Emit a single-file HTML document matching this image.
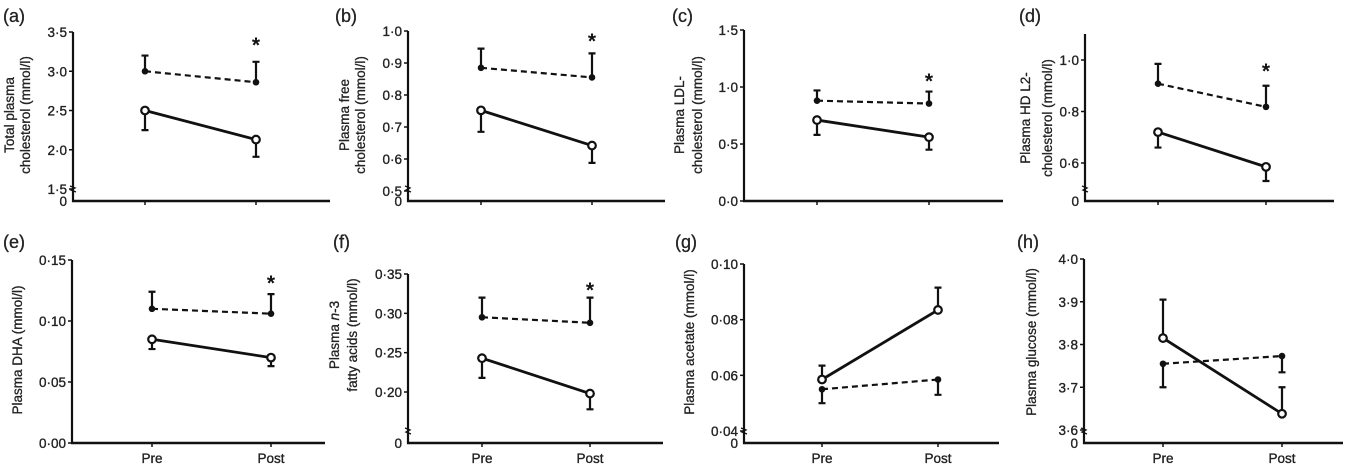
<!DOCTYPE html>
<html><head><meta charset="utf-8">
<style>
body{margin:0;background:#fff;}
svg{display:block;font-family:"Liberation Sans","DejaVu Sans",sans-serif;}
.tk{font-size:13.5px;fill:#222;stroke:#222;stroke-width:0.35px;}
.ttl{font-size:13.5px;fill:#222;stroke:#222;stroke-width:0.3px;}
.pl{font-size:18px;fill:#222;stroke:#222;stroke-width:0.3px;}
</style></head>
<body>
<svg id="chart" width="1345" height="466" viewBox="0 0 1345 466" xmlns="http://www.w3.org/2000/svg"></svg>
<script>
// ---- data ----
const timepoints=["Pre","Post"];
// (a) total cholesterol
const aTicks=[1.5,2.0,2.5,3.0,3.5];
const aDashed=[3.0,2.86], aDashedErr=[3.2,3.12];
const aSolid=[2.5,2.13], aSolidErr=[2.25,1.91];
// (b) free cholesterol
const bTicks=[0.5,0.6,0.7,0.8,0.9,1.0];
const bDashed=[0.885,0.855], bDashedErr=[0.945,0.93];
const bSolid=[0.752,0.642], bSolidErr=[0.685,0.588];
// (c) LDL
const cTicks=[0.0,0.5,1.0,1.5];
const cDashed=[0.88,0.855], cDashedErr=[0.97,0.96];
const cSolid=[0.71,0.56], cSolidErr=[0.58,0.45];
// (d) HDL2
const dTicks=[0.6,0.8,1.0];
const dDashed=[0.908,0.818], dDashedErr=[0.985,0.90];
const dSolid=[0.72,0.585], dSolidErr=[0.66,0.53];
// (e) DHA
const eTicks=[0.00,0.05,0.10,0.15];
const eDashed=[0.110,0.106], eDashedErr=[0.124,0.122];
const eSolid=[0.085,0.070], eSolidErr=[0.077,0.063];
// (f) n-3 fatty acids
const fTicks=[0.20,0.25,0.30,0.35];
const fDashed=[0.295,0.288], fDashedErr=[0.32,0.32];
const fSolid=[0.243,0.198], fSolidErr=[0.218,0.178];
// (g) acetate
const gTicks=[0.04,0.06,0.08,0.10];
const gDashed=[0.055,0.0585], gDashedErr=[0.050,0.053];
const gSolid=[0.0585,0.0835], gSolidErr=[0.0635,0.0915];
// (h) glucose
const hTicks=[3.6,3.7,3.8,3.9,4.0];
const hDashed=[3.755,3.773], hDashedErr=[3.70,3.735];
const hSolid=[3.815,3.638], hSolidErr=[3.905,3.70];

// ---- layout ----
const panels=[
 {id:"a",ax:73,bot:201,right:330,top:32,xs:[145,256],v:[1.5,3.5],y:[189,32],ticks:aTicks,dec:1,brk:true,star:true,starY:44,
  D:aDashed,DE:aDashedErr,S:aSolid,SE:aSolidErr,lab:[3,22],title:["Total plasma","cholesterol (mmol/l)"],tx:[14,30],ty:115,xl:false},
 {id:"b",ax:408,bot:201,right:665,top:31,xs:[481,592],v:[0.5,1.0],y:[191,31],ticks:bTicks,dec:1,brk:true,star:true,starY:40,
  D:bDashed,DE:bDashedErr,S:bSolid,SE:bSolidErr,lab:[335,22],title:["Plasma free","cholesterol (mmol/l)"],tx:[349,365],ty:115,xl:false},
 {id:"c",ax:744,bot:201,right:1003,top:30,xs:[817,929],v:[0.0,1.5],y:[201,30],ticks:cTicks,dec:1,brk:false,star:true,starY:80,
  D:cDashed,DE:cDashedErr,S:cSolid,SE:cSolidErr,lab:[672,22],title:["Plasma LDL-","cholesterol (mmol/l)"],tx:[684,702],ty:115,xl:false},
 {id:"d",ax:1085,bot:201,right:1334,top:34,xs:[1158,1266],v:[0.6,1.0],y:[163,60],ticks:dTicks,dec:1,brk:true,star:true,starY:70,
  D:dDashed,DE:dDashedErr,S:dSolid,SE:dSolidErr,lab:[1019,22],title:["Plasma HD L2-","cholesterol (mmol/l)"],tx:[1030,1052],ty:118,xl:false},
 {id:"e",ax:72,bot:443,right:325,top:260,xs:[152,271],v:[0.0,0.15],y:[443,260],ticks:eTicks,dec:2,brk:false,star:true,starY:282,
  D:eDashed,DE:eDashedErr,S:eSolid,SE:eSolidErr,lab:[3,248],title:["Plasma DHA (mmol/l)"],tx:[22],ty:350,xl:true},
 {id:"f",ax:408,bot:443,right:663,top:274,xs:[482,590],v:[0.20,0.35],y:[392,274],ticks:fTicks,dec:2,brk:true,star:true,starY:289,
  D:fDashed,DE:fDashedErr,S:fSolid,SE:fSolidErr,lab:[333,248],title:["Plasma n-3","fatty acids (mmol/l)"],tx:[339,357],ty:335,xl:true},
 {id:"g",ax:744,bot:443,right:999,top:264,xs:[822,938],v:[0.04,0.10],y:[431,264],ticks:gTicks,dec:2,brk:true,star:false,
  D:gDashed,DE:gDashedErr,S:gSolid,SE:gSolidErr,lab:[675,248],title:["Plasma acetate (mmol/l)"],tx:[694],ty:342,xl:true},
 {id:"h",ax:1084,bot:443,right:1343,top:259,xs:[1163,1282],v:[3.6,4.0],y:[430,259],ticks:hTicks,dec:1,brk:true,star:false,
  D:hDashed,DE:hDashedErr,S:hSolid,SE:hSolidErr,lab:[1017,248],title:["Plasma glucose (mmol/l)"],tx:[1036],ty:342,xl:true}
];
const NS="http://www.w3.org/2000/svg";
const svg=document.getElementById("chart");
function mk(tag,attrs,parent,txt){const e=document.createElementNS(NS,tag);for(const k in attrs)e.setAttribute(k,attrs[k]);if(txt!==undefined)e.textContent=txt;parent.appendChild(e);return e;}
function fmt(v,d){return v.toFixed(d).replace(".","\u00B7");}

panels.forEach(p=>{
  const g=mk("g",{},svg);
  
  
  const yS=v=>p.y[0]+(v-p.v[0])*(p.y[1]-p.y[0])/(p.v[1]-p.v[0]);
  const pl=mk("text",{x:p.lab[0],y:p.lab[1],class:"pl"},g,"("+p.id+")");
  
  
  const ya=mk("line",{x1:p.ax,y1:p.top,x2:p.ax,y2:p.bot+1,stroke:"#111","stroke-width":2.2},g);
  
  
  const xa=mk("line",{x1:p.ax-1,y1:p.bot,x2:p.right,y2:p.bot,stroke:"#111","stroke-width":2.5},g);
  
  
  p.ticks.forEach(t=>{
    const y=yS(t);
    mk("line",{x1:p.ax-4,y1:y,x2:p.ax,y2:y,stroke:"#111","stroke-width":1.5},g);
    const tl=mk("text",{x:p.ax-6,y:y+5,"text-anchor":"end",class:"tk"},g,fmt(t,p.dec));
    
    
  });
  if(p.brk){
    const z=mk("text",{x:p.ax-6,y:p.bot+5,"text-anchor":"end",class:"tk"},g,"0");
    
    
    const by=p.bot-12;
    const bm=mk("path",{d:`M${p.ax-3} ${by-3} L${p.ax+2} ${by-1} L${p.ax-2} ${by+1} L${p.ax+3} ${by+3}`,stroke:"#111","stroke-width":1.3,fill:"none"},g);
    
    
  }
  p.xs.forEach((x,i)=>{
    mk("line",{x1:x,y1:p.bot,x2:x,y2:p.bot+4,stroke:"#111","stroke-width":1.5},g);
    if(p.xl){
      const xl=mk("text",{x:x,y:p.bot+20,"text-anchor":"middle",class:"tk"},g,timepoints[i]);
      
      
    }
  });
  p.title.forEach((t,i)=>{
    const tt=mk("text",{x:p.tx[i],y:p.ty,"text-anchor":"middle",class:"ttl",transform:`rotate(-90 ${p.tx[i]} ${p.ty})`},g);
    
    
    if(t.indexOf("n-3")>=0){
      tt.appendChild(document.createTextNode("Plasma "));
      mk("tspan",{"font-style":"italic"},tt,"n");
      tt.appendChild(document.createTextNode("-3"));
    } else tt.textContent=t;
  });
  function err(vals,errs,name){
    vals.forEach((v,i)=>{
      const x=p.xs[i],y1=yS(v),y2=yS(errs[i]);
      const e=mk("path",{d:`M${x} ${y1} L${x} ${y2} M${x-3.5} ${y2} L${x+3.5} ${y2}`,stroke:"#111","stroke-width":2.2,fill:"none"},g);
      
      
    });
  }
  err(p.D,p.DE,'error-bar-dashed');
  err(p.S,p.SE,'error-bar-solid');
  const ld=mk("line",{x1:p.xs[0],y1:yS(p.D[0]),x2:p.xs[1],y2:yS(p.D[1]),stroke:"#111","stroke-width":2.2,"stroke-dasharray":"6,4"},g);
  
  
  const ls=mk("line",{x1:p.xs[0],y1:yS(p.S[0]),x2:p.xs[1],y2:yS(p.S[1]),stroke:"#111","stroke-width":2.8},g);
  
  
  p.D.forEach((v,i)=>{
    const c=mk("circle",{cx:p.xs[i],cy:yS(v),r:3.3,fill:"#111"},g);
    
    
  });
  p.S.forEach((v,i)=>{
    const c=mk("circle",{cx:p.xs[i],cy:yS(v),r:3.8,fill:"#fff",stroke:"#111","stroke-width":2.2},g);
    
    
  });
  if(p.star){
    const s=mk("text",{x:p.xs[1],y:p.starY+8,"text-anchor":"middle","font-size":"21px","font-weight":"bold",fill:"#111"},g,"*");
    
    
  }
});
</script>
</body></html>
